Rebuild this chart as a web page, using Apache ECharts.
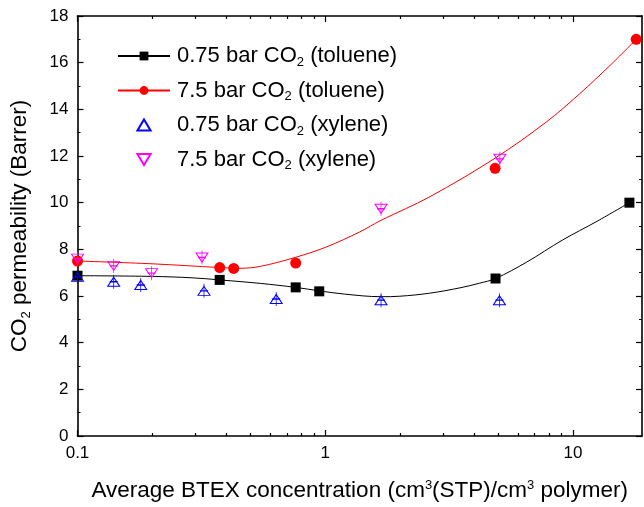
<!DOCTYPE html>
<html>
<head>
<meta charset="utf-8">
<script src="https://cdn.jsdelivr.net/npm/echarts@6/dist/echarts.min.js"></script>
<style>
  html, body { margin: 0; padding: 0; background: #ffffff; }
  #chart { width: 644px; height: 507px; }
</style>
</head>
<body>
<div id="chart"></div>
<script>
// Series names as shown in the legend
const nameTolLow = '0.75 bar CO2 (toluene)';
const nameTolHigh = '7.5 bar CO2 (toluene)';
const nameXylLow = '0.75 bar CO2 (xylene)';
const nameXylHigh = '7.5 bar CO2 (xylene)';

// Measured permeabilities (Barrer) vs. average BTEX concentration
const tolLowX = [0.1, 0.375, 0.76, 0.946, 4.87, 16.9];
const tolLowY = [6.87, 6.69, 6.37, 6.2, 6.75, 10.0];
const tolHighX = [0.1, 0.375, 0.427, 0.76, 4.85, 18.0];
const tolHighY = [7.5, 7.22, 7.18, 7.41, 11.47, 17.0];
const xylLowX = [0.1, 0.14, 0.18, 0.324, 0.634, 1.68, 5.05];
const xylLowY = [6.82, 6.61, 6.47, 6.22, 5.87, 5.82, 5.82];
const xylHighX = [0.1, 0.14, 0.199, 0.318, 1.68, 5.07];
const xylHighY = [7.6, 7.29, 6.98, 7.65, 9.74, 11.88];

// Trend curves for the toluene series
const fitLowX = [0.1, 0.2, 0.29, 0.375, 0.547, 0.76, 0.946, 1.2, 1.677, 2.0, 2.64, 3.5, 4.2, 4.87, 6.5, 9.08, 12.5, 16.9];
const fitLowY = [6.87, 6.84, 6.78, 6.69, 6.54, 6.37, 6.22, 6.08, 5.97, 5.99, 6.12, 6.35, 6.55, 6.75, 7.45, 8.4, 9.2, 10.0];
const fitHighX = [0.1, 0.2, 0.375, 0.454, 0.547, 0.76, 1.01, 1.38, 1.677, 2.64, 4.87, 7.79, 10.6, 14.4, 18.0];
const fitHighY = [7.5, 7.38, 7.22, 7.19, 7.27, 7.66, 8.1, 8.75, 9.24, 10.25, 11.92, 13.45, 14.65, 15.97, 17.0];

// Axis ticks
const xMajorTicks = [0.1, 1, 10];
const xMinorTicks = [0.2, 0.3, 0.4, 0.5, 0.6, 0.7, 0.8, 0.9, 2, 3, 4, 5, 6, 7, 8, 9];
const xMin = 0.1, xMax = 19;
const yMin = 0, yMax = 18, yStep = 2;

const FONT = '"Liberation Sans", Arial, Helvetica, sans-serif';
const pairs = (xs, ys) => xs.map((x, i) => [x, ys[i]]);
const subCO2 = s => s.replace('CO2', 'CO{sub|2}');

const errPlus = 'path://M4,0L4,14M0,7L8,7';
const triUp = 'path://M6,0L12,10L0,10Z';
const triDown = 'path://M0,0L12,0L6,10Z';

function logAxis(pos, ticks, len, showLine, showLabel) {
  return {
    type: 'log', logBase: 10, position: pos, min: xMin, max: xMax,
    axisLine: { show: showLine, onZero: false, lineStyle: { color: '#000', width: 1.6 } },
    axisTick: { show: true, inside: true, length: len, customValues: ticks,
      lineStyle: { color: '#000', width: 1.2 } },
    axisLabel: { show: showLabel, customValues: xMajorTicks, margin: 9,
      fontFamily: FONT, fontSize: 17, color: '#000',
      formatter: v => String(v) },
    splitLine: { show: false }, minorTick: { show: false }
  };
}

function valAxis(pos, showLabel) {
  return {
    type: 'value', position: pos, min: yMin, max: yMax, interval: yStep,
    axisLine: { show: true, onZero: false, lineStyle: { color: '#000', width: 1.6 } },
    axisTick: { show: true, inside: true, length: 6, lineStyle: { color: '#000', width: 1.2 } },
    minorTick: { show: true, splitNumber: 2, length: 3, lineStyle: { color: '#000', width: 1 } },
    axisLabel: { show: showLabel, margin: 9, fontFamily: FONT, fontSize: 17, color: '#000' },
    splitLine: { show: false }
  };
}

const xAxes = [
  Object.assign(logAxis('bottom', xMajorTicks, 6, true, true), {
    name: 'Average BTEX concentration (cm{sup|3}(STP)/cm{sup|3} polymer)',
    nameLocation: 'middle', nameGap: 43,
    nameTextStyle: { fontFamily: FONT, fontSize: 22.5, color: '#000',
      rich: { sup: { fontFamily: FONT, fontSize: 13, color: '#000', verticalAlign: 'top', padding: [0, 0, 10, 0] } } }
  }),
  logAxis('bottom', xMinorTicks, 3, false, false),
  logAxis('top', xMajorTicks, 6, true, false),
  logAxis('top', xMinorTicks, 3, false, false)
];

const yAxes = [
  Object.assign(valAxis('left', true), {
    name: 'CO{sub|2} permeability (Barrer)',
    nameLocation: 'middle', nameGap: 45, nameRotate: 90,
    nameTextStyle: { fontFamily: FONT, fontSize: 22.5, color: '#000',
      rich: { sub: { fontFamily: FONT, fontSize: 13, color: '#000', padding: [13, 0, 0, 0] } } }
  }),
  valAxis('right', false)
];

const option = {
  backgroundColor: '#ffffff',
  animation: false,
  grid: { left: 77, right: 2, top: 16, bottom: 70, containLabel: false },
  xAxis: xAxes,
  yAxis: yAxes,
  legend: {
    data: [
      { name: nameTolLow },
      { name: nameTolHigh },
      { name: nameXylLow, icon: triUp },
      { name: nameXylHigh, icon: triDown }
    ],
    orient: 'vertical', left: 112, top: 40,
    itemWidth: 52, itemHeight: 11, itemGap: 11,
    symbolKeepAspect: true,
    formatter: n => subCO2(n),
    textStyle: { fontFamily: FONT, fontSize: 22, color: '#000', padding: [0, 0, 0, 2],
      rich: { sub: { fontFamily: FONT, fontSize: 13, color: '#000', padding: [12, 0, 0, 0] } } }
  },
  series: [
    { name: nameTolLow, type: 'line', smooth: 0.35, data: pairs(fitLowX, fitLowY),
      symbol: 'rect', showSymbol: false, lineStyle: { color: '#000', width: 1 },
      itemStyle: { color: '#000' }, silent: true, z: 2 },
    { name: nameTolHigh, type: 'line', smooth: 0.35, data: pairs(fitHighX, fitHighY),
      symbol: 'circle', showSymbol: false, lineStyle: { color: '#ff0000', width: 1 },
      itemStyle: { color: '#ff0000' }, silent: true, z: 2 },
    { name: nameTolLow, type: 'scatter', data: pairs(tolLowX, tolLowY),
      symbol: 'rect', symbolSize: 10, itemStyle: { color: '#000', opacity: 1 }, z: 3 },
    { name: nameTolHigh, type: 'scatter', data: pairs(tolHighX, tolHighY),
      symbol: 'circle', symbolSize: 11, itemStyle: { color: '#ff0000', opacity: 1 }, z: 3 },
    { name: 'xylene-low-bars', type: 'scatter', data: pairs(xylLowX, xylLowY),
      symbol: errPlus, symbolSize: [8, 14], symbolKeepAspect: false,
      itemStyle: { color: 'rgba(0,0,0,0)', borderColor: '#0000ff', borderWidth: 1, opacity: 1 }, z: 4 },
    { name: nameXylLow, type: 'scatter', data: pairs(xylLowX, xylLowY),
      symbol: 'triangle', symbolSize: [12, 9],
      itemStyle: { color: 'rgba(255,255,255,0)', borderColor: '#0000ff', borderWidth: 1, opacity: 1 }, z: 4 },
    { name: 'xylene-high-bars', type: 'scatter', data: pairs(xylHighX, xylHighY),
      symbol: errPlus, symbolSize: [8, 14], symbolKeepAspect: false,
      itemStyle: { color: 'rgba(0,0,0,0)', borderColor: '#ff00ff', borderWidth: 1, opacity: 1 }, z: 5 },
    { name: nameXylHigh, type: 'scatter', data: pairs(xylHighX, xylHighY),
      symbol: 'triangle', symbolRotate: 180, symbolSize: [12, 9],
      itemStyle: { color: 'rgba(255,255,255,0)', borderColor: '#ff00ff', borderWidth: 1, opacity: 1 }, z: 5 }
  ]
};

const chart = echarts.init(document.getElementById('chart'), null, { renderer: 'canvas' });
chart.setOption(option);
</script>
</body>
</html>
